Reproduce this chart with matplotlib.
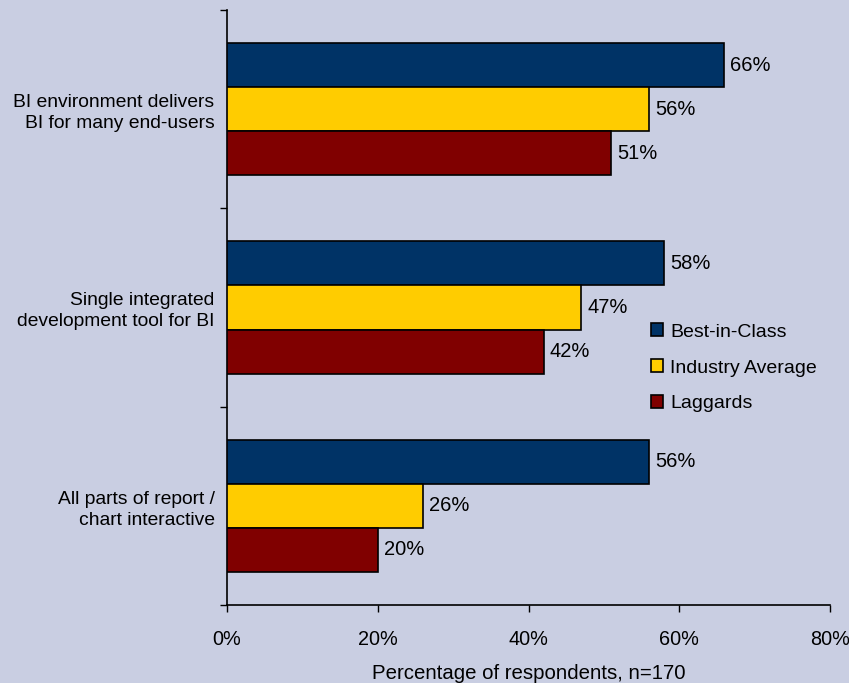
import matplotlib
matplotlib.use("Agg")
import matplotlib.pyplot as plt
from matplotlib.patches import Patch
import numpy as np

plt.rcParams['font.family'] = ['Liberation Sans', 'DejaVu Sans']

categories = ["BI environment delivers\nBI for many end-users",
              "Single integrated\ndevelopment tool for BI",
              "All parts of report /\nchart interactive"]
series_names = ["Best-in-Class", "Industry Average", "Laggards"]
best_in_class = [66, 58, 56]
industry_avg = [56, 47, 26]
laggards = [51, 42, 20]
x_ticks = [0, 20, 40, 60, 80]
x_tick_labels = ["0%", "20%", "40%", "60%", "80%"]

colors = ["#003366", "#FFCC00", "#800000"]
bg = "#C9CEE2"

fig = plt.figure(figsize=(8.49, 6.83), dpi=100, facecolor=bg)
ax = fig.add_axes([0.2674, 0.1142, 0.7102, 0.8712])
ax.set_facecolor(bg)

h = 0.222
y = np.arange(len(categories))
for i, (vals, c) in enumerate(zip([best_in_class, industry_avg, laggards], colors)):
    pos = y + (i - 1) * h
    ax.barh(pos, vals, height=h, color=c, edgecolor="black", linewidth=1.2, zorder=3)
    for p, v in zip(pos, vals):
        ax.text(v + 0.8, p, f"{v}%", va="center", ha="left", fontsize=14.5, color="black")

ax.set_xlim(0, 80)
ax.set_ylim(2.5, -0.5)
ax.set_xticks(x_ticks)
ax.set_xticklabels(x_tick_labels, fontsize=14.3)
ax.set_yticks([-0.5, 0.5, 1.5, 2.5])
ax.set_yticklabels([])
ax.set_yticks(y, minor=True)
ax.set_yticklabels(categories, minor=True, fontsize=13.9, ha="right")
ax.tick_params(axis="y", which="minor", length=0, pad=9)
ax.tick_params(axis="y", which="major", direction="out", length=5, width=1)
ax.tick_params(axis="x", direction="out", length=5, width=1, pad=13)
for lbl in ax.get_yticklabels(minor=True):
    lbl.set_multialignment("right")
    lbl.set_linespacing(1.3)

for s in ["top", "right"]:
    ax.spines[s].set_visible(False)
for s in ["left", "bottom"]:
    ax.spines[s].set_linewidth(1.2)

ax.set_xlabel("Percentage of respondents, n=170", fontsize=14.7, labelpad=11)

handles = [Patch(facecolor=c, edgecolor="black", linewidth=1.2) for c in colors]
fig.legend(handles, series_names, loc="upper left", bbox_to_anchor=(0.746, 0.552),
           frameon=False, fontsize=14, handlelength=0.65, handleheight=0.65,
           handletextpad=0.35, labelspacing=0.95)

fig.savefig("out.png", dpi=100, facecolor=bg)
